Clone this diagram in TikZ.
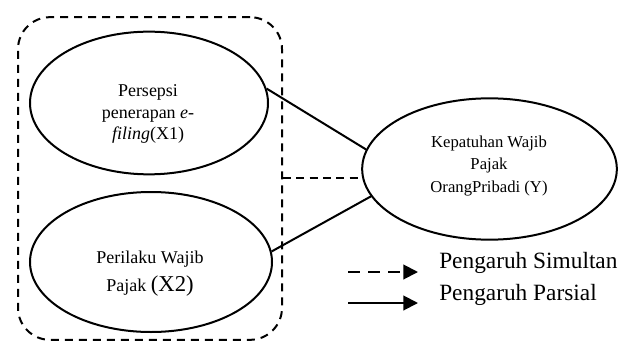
\documentclass[tikz,border=0pt]{standalone}
\usepackage{fontspec}
\setmainfont{Liberation Serif}
\usetikzlibrary{shapes.geometric,arrows.meta}
\begin{document}
\begin{tikzpicture}[x=0.75pt,y=-0.75pt,
  oval/.style={ellipse,draw,line width=1.5pt,inner sep=0pt},
  ovaltext/.style={align=center,inner sep=0pt,font=\fontsize{13.5}{16}\selectfont},
  link/.style={line width=1.5pt},
  dlink/.style={line width=1.5pt,dash pattern=on 6pt off 4pt},
  legtext/.style={anchor=west,inner sep=0pt,font=\fontsize{17.5}{20}\selectfont}]
\useasboundingbox (0,0) rectangle (638,342);
% group box
\node[draw,line width=1.5pt,dash pattern=on 6pt off 4.5pt,rounded corners=24pt,
      minimum width=198pt,minimum height=242pt,inner sep=0pt] (grp) at (150,178.5) {};
% ellipses
\node[oval,minimum width=178.5pt,minimum height=107pt] (x1) at (149,103) {};
\node[oval,minimum width=181.5pt,minimum height=105pt] (x2) at (151,262) {};
\node[oval,minimum width=191pt,minimum height=106pt] (y) at (489.5,169) {};
% texts
\node[ovaltext] (x1t) at (148,114) {Persepsi\\penerapan \textit{e}-\\\textit{filing}(X1)};
\node[ovaltext,font=\fontsize{13.5}{21}\selectfont] (x2t) at (150,274) {Perilaku Wajib\\Pajak {\fontsize{17}{20}\selectfont(X2)}};
\node[ovaltext,font=\fontsize{12.5}{17}\selectfont] (yt) at (489,166) {Kepatuhan Wajib\\Pajak\\OrangPribadi (Y)};
% connectors
\draw[link] (x1.7) -- (y.171);
\draw[link] (x2.5) -- (y.193);
\coordinate (yd) at (y.184);
\draw[dlink] (yd -| grp.east) -- (yd);
% legend
\coordinate (la1) at (348,272);
\coordinate (lb1) at (418,272);
\coordinate (la2) at (348,303);
\coordinate (lb2) at (418,303);
\draw[line width=1.5pt,dash pattern=on 9pt off 6pt,-{Triangle[length=11pt,width=11pt]}] (la1) -- (lb1);
\draw[line width=1.5pt,-{Triangle[length=11pt,width=11pt]}] (la2) -- (lb2);
\node[legtext] (l1) at (439,263) {Pengaruh Simultan};
\node[legtext] (l2) at (439,295) {Pengaruh Parsial};
\end{tikzpicture}
\end{document}
